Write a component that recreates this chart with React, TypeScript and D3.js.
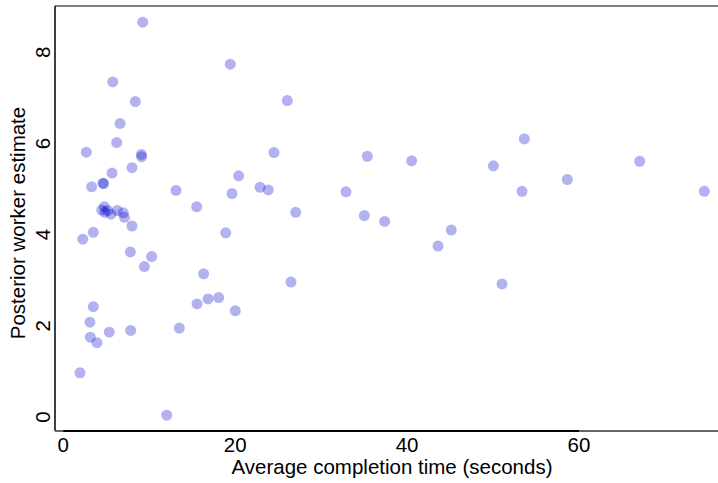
// App.tsx
// scatter of worker estimate vs completion time
import * as d3 from 'd3';
import React from 'react';

const avgTime = [
  9.24, 19.43, 5.75, 8.38, 6.6, 6.21, 2.68, 9.08, 9.12, 7.99, 5.67, 3.3, 4.7, 4.6,
  13.11, 19.63, 15.52, 20.4, 4.47, 4.77, 4.85, 5.14, 5.55, 6.28, 6.98, 7.12, 7.99,
  3.49, 2.26, 7.8, 10.28, 9.43, 16.33, 15.56, 16.84, 18.08, 20.01, 3.49, 3.1, 3.14,
  3.92, 5.35, 7.84, 13.5, 1.94, 12.03, 26.06, 24.51, 22.89, 23.85, 27.04, 26.49,
  18.9, 32.89, 35.37, 35.02, 37.39, 40.53, 43.6, 45.14, 53.64, 50.03, 53.37, 58.64,
  67.06, 74.58, 51.04
];
const workerEst = [
  8.66, 7.74, 7.35, 6.92, 6.44, 6.02, 5.81, 5.76, 5.71, 5.47, 5.35, 5.05, 5.12, 5.13,
  4.97, 4.9, 4.61, 5.29, 4.54, 4.61, 4.49, 4.53, 4.45, 4.53, 4.48, 4.38, 4.19,
  4.05, 3.9, 3.62, 3.52, 3.3, 3.14, 2.48, 2.59, 2.62, 2.33, 2.42, 2.08, 1.75,
  1.63, 1.86, 1.9, 1.95, 0.97, 0.04, 6.94, 5.8, 5.04, 4.98, 4.49, 2.96,
  4.04, 4.94, 5.72, 4.42, 4.29, 5.62, 3.75, 4.1, 6.1, 5.51, 4.95, 5.21,
  5.61, 4.95, 2.92
];
const xTicks = [0, 20, 40, 60];
const yTicks = [0, 2, 4, 6, 8];

const W = 718, H = 483;
const left = 55, right = 718, top = 6, bottom = 431;

export default function App() {
  var x = d3.scaleLinear().domain([0, 60]).range([63.3, 579]);
  var y = d3.scaleLinear().domain([0, 8]).range([417, 52.3]);
  const font = '"Liberation Sans", Arial, sans-serif';
  const fs = 20.5;

  return (
    <svg width={W} height={H} style={{ position: 'absolute', left: 0, top: 0 }} fontFamily={font}>
      {/* frame */}
      <line x1={left} x2={right} y1={top} y2={top} stroke="#000" strokeWidth={1.2} />
      <line x1={left} x2={left} y1={top} y2={bottom} stroke="#000" strokeWidth={1.5} />
      <line x1={left} x2={right} y1={bottom} y2={bottom} stroke="#666" strokeWidth={2} />
      <line x1={x(0)} x2={x(60)} y1={bottom} y2={bottom} stroke="#000" strokeWidth={2} />

      {avgTime.map((d, i) => (
        <circle key={i} cx={x(d)} cy={y(workerEst[i])} r={5.5} fill="#0000CD" fillOpacity={0.3} />
      ))}

      {xTicks.map(t => (
        <text key={'x' + t} x={x(t)} y={452} fontSize={fs} textAnchor="middle">{t}</text>
      ))}
      {yTicks.map(t => (
        <text key={'y' + t} transform={`translate(50,${y(t)}) rotate(-90)`} fontSize={fs} textAnchor="middle">{t}</text>
      ))}

      <text x={392} y={474} fontSize={fs} textAnchor="middle">Average completion time (seconds)</text>
      <text transform="translate(25,223) rotate(-90)" fontSize={fs} textAnchor="middle">Posterior worker estimate</text>
    </svg>
  );
}
